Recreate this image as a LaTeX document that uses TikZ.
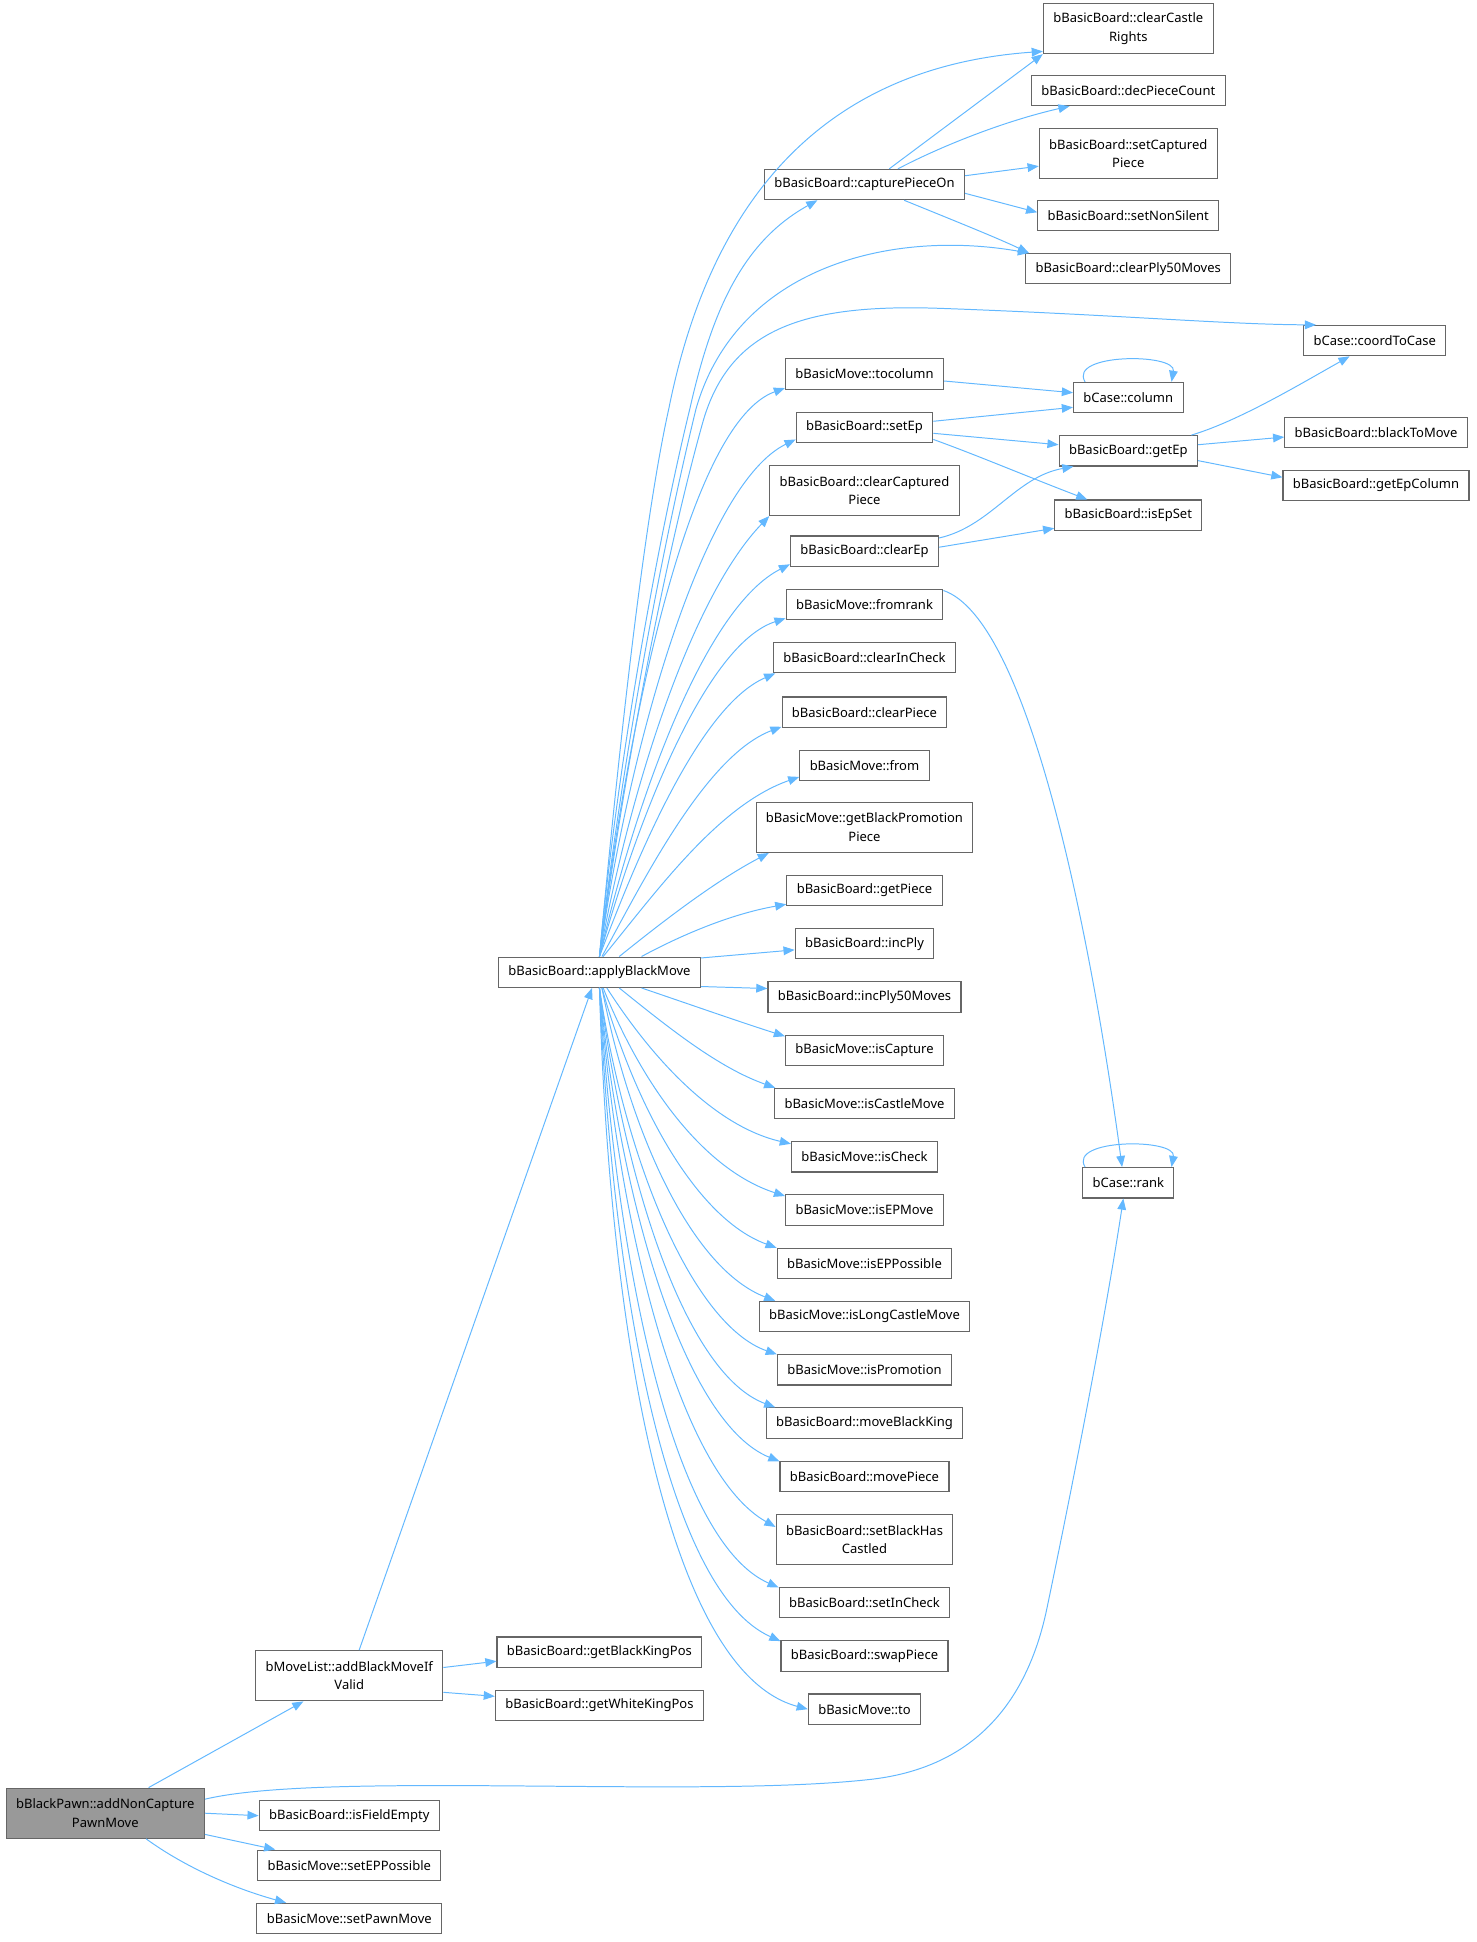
\documentclass[tikz,border=0pt]{standalone}
\usepackage{fontspec}
\setmainfont{Noto Sans}
\usetikzlibrary{arrows.meta}
\definecolor{edgeblue}{HTML}{63B8FF}
\definecolor{boxgray}{HTML}{666666}
\definecolor{rootgray}{HTML}{999999}

\begin{document}
\begin{tikzpicture}[x=1pt,y=1pt,yscale=-1,
    fn/.style={draw=boxgray,fill=white,line width=0.9pt,inner xsep=8pt,inner ysep=6pt,minimum height=24.5pt,align=center,font=\fontsize{10.5}{15}\selectfont},
    fntwo/.style={fn,minimum height=40.5pt},
    rootfn/.style={fntwo,fill=rootgray},
    callto/.style={draw=edgeblue,line width=0.8pt,-{Triangle[length=9pt,width=7pt]}}]
    \useasboundingbox (0,0) rectangle (1192,1568);

    % Text Node
    \draw (85,1464) node[rootfn] (root) {bBlackPawn::addNonCapture\\PawnMove};
    % Text Node
    \draw (282,1353) node[fntwo] (addblack) {bMoveList::addBlackMoveIf\\Valid};
    \draw (484,1334) node[fn] (blackking) {bBasicBoard::getBlackKingPos};
    \draw (484,1377) node[fn] (whiteking) {bBasicBoard::getWhiteKingPos};
    % Text Node
    \draw (282,1466) node[fn] (fieldempty) {bBasicBoard::isFieldEmpty};
    \draw (282,1506) node[fn] (seteppos) {bBasicMove::setEPPossible};
    \draw (282,1549) node[fn] (setpawn) {bBasicMove::setPawnMove};
    % Text Node
    \draw (484,785) node[fn] (apply) {bBasicBoard::applyBlackMove};
    % Text Node
    \draw (698,149) node[fn] (capture) {bBasicBoard::capturePieceOn};
    \draw (698,302) node[fn] (tocolumn) {bBasicMove::tocolumn};
    \draw (698,345) node[fn] (setep) {bBasicBoard::setEp};
    \draw (698,396) node[fntwo] (clearcap) {bBasicBoard::clearCaptured\\Piece};
    \draw (698,445) node[fn] (clearep) {bBasicBoard::clearEp};
    \draw (698,488) node[fn] (fromrank) {bBasicMove::fromrank};
    \draw (698,531) node[fn] (clearcheck) {bBasicBoard::clearInCheck};
    \draw (698,575) node[fn] (clearpiece) {bBasicBoard::clearPiece};
    \draw (698,618) node[fn] (from) {bBasicMove::from};
    \draw (698,668) node[fntwo] (promo) {bBasicMove::getBlackPromotion\\Piece};
    \draw (698,719) node[fn] (getpiece) {bBasicBoard::getPiece};
    \draw (698,762) node[fn] (incply) {bBasicBoard::incPly};
    \draw (698,805) node[fn] (incply50) {bBasicBoard::incPly50Moves};
    \draw (698,848) node[fn] (iscapture) {bBasicMove::isCapture};
    \draw (698,891) node[fn] (iscastle) {bBasicMove::isCastleMove};
    \draw (698,934) node[fn] (ischeck) {bBasicMove::isCheck};
    \draw (698,977) node[fn] (isepmove) {bBasicMove::isEPMove};
    \draw (698,1020) node[fn] (iseppos) {bBasicMove::isEPPossible};
    \draw (698,1063) node[fn] (islong) {bBasicMove::isLongCastleMove};
    \draw (698,1106) node[fn] (ispromo) {bBasicMove::isPromotion};
    \draw (698,1149) node[fn] (moveking) {bBasicBoard::moveBlackKing};
    \draw (698,1192) node[fn] (movepiece) {bBasicBoard::movePiece};
    \draw (698,1243) node[fntwo] (castled) {bBasicBoard::setBlackHas\\Castled};
    \draw (698,1294) node[fn] (setcheck) {bBasicBoard::setInCheck};
    \draw (698,1337) node[fn] (swappiece) {bBasicBoard::swapPiece};
    \draw (698,1380) node[fn] (to) {bBasicMove::to};
    % Text Node
    \draw (911,23) node[fntwo] (clearcastle) {bBasicBoard::clearCastle\\Rights};
    \draw (911,73) node[fn] (decpiece) {bBasicBoard::decPieceCount};
    \draw (911,124) node[fntwo] (setcap) {bBasicBoard::setCaptured\\Piece};
    \draw (911,174) node[fn] (nonsilent) {bBasicBoard::setNonSilent};
    \draw (911,217) node[fn] (clearply) {bBasicBoard::clearPly50Moves};
    \draw (911,321) node[fn] (column) {bCase::column};
    \draw (911,364) node[fn] (getep) {bBasicBoard::getEp};
    \draw (911,416) node[fn] (isepset) {bBasicBoard::isEpSet};
    \draw (911,955) node[fn] (rank) {bCase::rank};
    % Text Node
    \draw (1110,275) node[fn] (coord) {bCase::coordToCase};
    \draw (1111,349) node[fn] (blackmove) {bBasicBoard::blackToMove};
    \draw (1111,392) node[fn] (epcolumn) {bBasicBoard::getEpColumn};

    % Connection
    \draw[callto] ([xshift=35pt]root.north) -- ([xshift=-37pt]addblack.south);
    \draw[callto] (root.8) .. controls (260,1430) and (560,1452) .. (700,1437) .. controls (790,1428) and (830,1370) .. (845,1300) .. controls (868,1190) and (893,1060) .. ([xshift=-4pt]rank.south);
    \draw[callto] (root.east) -- (fieldempty.west);
    \draw[callto] (root.-12) -- (seteppos.168);
    \draw[callto] ([xshift=33pt]root.south) .. controls (150,1508) and (190,1525) .. (setpawn.166);
    % Connection
    \draw[callto] ([xshift=8pt]addblack.north) -- ([xshift=-6pt]apply.south);
    \draw[callto] (addblack.5) -- (blackking.185);
    \draw[callto] (addblack.-10) -- (whiteking.175);
    % Connection
    \draw[callto] (apply.north) .. controls (500,600) and (520,420) .. (540,330) .. controls (570,180) and (650,55) .. (clearcastle.195);
    \draw[callto] (apply.north) .. controls (500,600) and (535,420) .. (557,330) .. controls (575,250) and (600,195) .. ([xshift=-38pt]capture.south);
    \draw[callto] (apply.north) .. controls (505,590) and (540,420) .. (562,330) .. controls (595,215) and (720,185) .. (clearply.171);
    \draw[callto] (apply.north) .. controls (510,580) and (545,420) .. (568,339) .. controls (590,265) and (650,245) .. (760,249) .. controls (900,254) and (990,262) .. (coord.165);
    \draw[callto] (apply.north) .. controls (510,560) and (560,340) .. (tocolumn.190);
    \draw[callto] (apply.north) .. controls (510,590) and (570,390) .. (setep.190);
    \draw[callto] (apply.north) .. controls (510,630) and (560,480) .. (clearcap.south west);
    \draw[callto] (apply.north) .. controls (515,640) and (570,490) .. (clearep.190);
    \draw[callto] (apply.north) .. controls (515,660) and (570,520) .. (fromrank.190);
    \draw[callto] (apply.north) .. controls (515,690) and (565,570) .. (clearcheck.190);
    \draw[callto] ([xshift=2pt]apply.north) .. controls (520,710) and (570,610) .. (clearpiece.190);
    \draw[callto] ([xshift=3pt]apply.north) .. controls (530,720) and (580,650) .. (from.190);
    \draw[callto] ([xshift=16pt]apply.north) .. controls (540,740) and (580,710) .. (promo.195);
    \draw[callto] ([xshift=34pt]apply.north) .. controls (550,755) and (590,738) .. (getpiece.190);
    \draw[callto] (apply.8) -- (incply.185);
    % Connection
    \draw[callto] (apply.-8) -- (incply50.175);
    \draw[callto] ([xshift=34pt]apply.south) .. controls (560,812) and (600,826) .. (iscapture.170);
    \draw[callto] ([xshift=16pt]apply.south) .. controls (540,830) and (580,862) .. (iscastle.170);
    \draw[callto] ([xshift=6pt]apply.south) .. controls (530,860) and (580,910) .. (ischeck.170);
    \draw[callto] ([xshift=3pt]apply.south) .. controls (520,880) and (570,945) .. (isepmove.170);
    \draw[callto] ([xshift=2pt]apply.south) .. controls (515,900) and (565,985) .. (iseppos.170);
    \draw[callto] ([xshift=2pt]apply.south) .. controls (510,920) and (560,1025) .. (islong.170);
    \draw[callto] (apply.south) .. controls (505,940) and (560,1070) .. (ispromo.170);
    \draw[callto] (apply.south) .. controls (505,960) and (555,1110) .. (moveking.170);
    \draw[callto] (apply.south) .. controls (502,980) and (555,1150) .. (movepiece.170);
    \draw[callto] (apply.south) .. controls (500,1000) and (550,1190) .. (castled.172);
    \draw[callto] (apply.south) .. controls (498,1030) and (545,1245) .. (setcheck.170);
    \draw[callto] (apply.south) .. controls (495,1050) and (540,1285) .. (swappiece.170);
    \draw[callto] (apply.south) .. controls (492,1080) and (540,1350) .. (to.west);
    % Connection
    \draw[callto] ([xshift=20pt]capture.north) -- (clearcastle.south west);
    \draw[callto] ([xshift=27pt]capture.north) .. controls (760,118) and (810,98) .. (decpiece.195);
    \draw[callto] (capture.5) -- (setcap.188);
    \draw[callto] (capture.-5) -- (nonsilent.178);
    \draw[callto] ([xshift=32pt]capture.south) .. controls (770,178) and (805,192) .. (clearply.171);
    % Connection
    \draw[callto] (tocolumn.-5) -- (column.175);
    \draw[callto] (setep.5) -- (column.190);
    \draw[callto] (setep.-5) -- (getep.175);
    \draw[callto] (setep.-10) .. controls (790,368) and (830,385) .. (isepset.159);
    \draw[callto] (clearep.10) .. controls (800,425) and (820,385) .. (getep.196);
    \draw[callto] (clearep.3) -- (isepset.190);
    \draw[callto] (fromrank.10) .. controls (830,500) and (880,750) .. ([xshift=-5pt]rank.north);
    % Connection
    \draw[callto] (column.160) .. controls (862,285) and (950,285) .. (column.20);
    \draw[callto] (rank.160) .. controls (862,919) and (950,919) .. (rank.20);
    % Connection
    \draw[callto] (getep.14) .. controls (1000,340) and (1050,310) .. (coord.212);
    \draw[callto] (getep.5) -- (blackmove.183);
    \draw[callto] (getep.-8) -- (epcolumn.175);

\end{tikzpicture}
\end{document}
